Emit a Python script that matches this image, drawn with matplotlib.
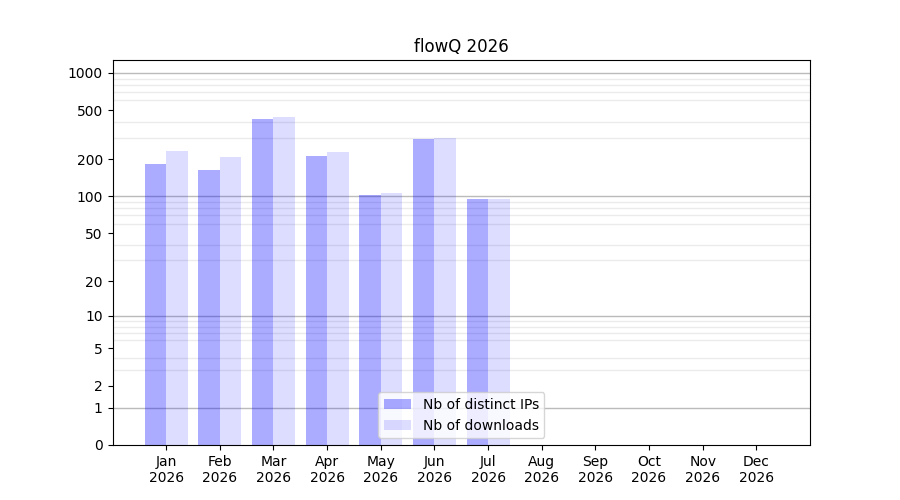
import numpy as np
import matplotlib
matplotlib.use('Agg')
import matplotlib.pyplot as plt
from matplotlib.ticker import FixedLocator, NullFormatter

# --- dados ---
meses = ['Jan', 'Feb', 'Mar', 'Apr', 'May', 'Jun', 'Jul', 'Aug', 'Sep', 'Oct', 'Nov', 'Dec']
ano = '2026'
ips_distintos = [184, 164, 425, 213, 103, 293, 95, 0, 0, 0, 0, 0]
downloads = [234, 209, 441, 230, 107, 300, 95, 0, 0, 0, 0, 0]
y_ticks = [0, 1, 2, 5, 10, 20, 50, 100, 200, 500, 1000]
y_topo = 1270


def forward(v):
    return np.log10(np.maximum(v, 0) + 1)


def inverse(v):
    return 10 ** v - 1


fig, ax = plt.subplots(figsize=(9, 5), dpi=100)
ax.set_yscale('function', functions=(forward, inverse))

x = np.arange(len(meses))
largura = 0.4
ax.bar(x - largura / 2, ips_distintos, largura, color='blue', alpha=0.33,
       label='Nb of distinct IPs', zorder=2)
ax.bar(x + largura / 2, downloads, largura, color='blue', alpha=0.135,
       label='Nb of downloads', zorder=2)

ax.set_xticks(x)
ax.set_xticklabels([f'{m}\n{ano}' for m in meses])
ax.set_xlim(-1, len(meses))
ax.set_ylim(0, y_topo)

ax.yaxis.set_major_locator(FixedLocator(y_ticks))
ax.set_yticklabels([str(t) for t in y_ticks])
menores = [m * 10 ** d for d in range(4) for m in range(2, 10)]
ax.yaxis.set_minor_locator(FixedLocator(menores))
ax.yaxis.set_minor_formatter(NullFormatter())
ax.tick_params(axis='y', which='minor', length=0)

# grid: claro nos intermediários, mais escuro nas décadas
ax.grid(True, axis='y', which='minor', color='#ebebeb', linewidth=1, zorder=0)
for dec in [1, 10, 100, 1000]:
    ax.axhline(dec, color='#bbbbbb', linewidth=1, zorder=1)

ax.set_title('flowQ 2026')
ax.legend(loc='lower center')

fig.savefig('out.png', dpi=100)
